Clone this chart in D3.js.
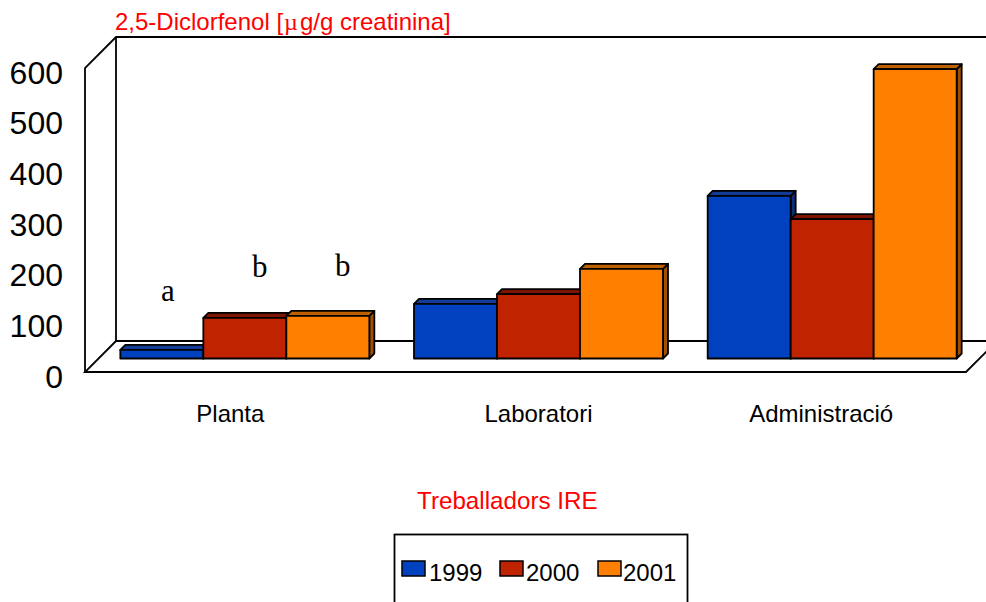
<!DOCTYPE html>
<html>
<head>
<meta charset="utf-8">
<script src="https://cdn.jsdelivr.net/npm/d3@7"></script>
<style>
    html, body { margin: 0; padding: 0; background: #fff; overflow: hidden; }
    text { font-family: "Liberation Sans", Arial, sans-serif; }
</style>
</head>
<body>
<script>
// Data
const categories = ['Planta', 'Laboratori', 'Administració'];
const years = ['1999', '2000', '2001'];
const values1999 = [17, 108, 321];
const values2000 = [80, 127, 275];
const values2001 = [84, 177, 571];
const yTicks = [0, 100, 200, 300, 400, 500, 600];
const marks = ['a', 'b', 'b'];

// Visual configs
const width = 986, height = 602,
    floorLeft = 85, floorRight = 966, floorBottom = 372, wallTop = 68,
    wallDx = 31, wallDy = 31,
    barShiftX = 13, barShiftY = 13.5, barDepth = 5,
    colors = ['#0041bf', '#bf2300', '#ff8000'],
    topColors = ['#123c96', '#7c1400', '#bf6000'],
    sideColors = ['#0c2f7a', '#5c1000', '#a05000'],
    labelShift = [-14.5, 0, -11],
    markShift = [6, 15, 15],
    markY = [301, 277, 276];

const series = [values1999, values2000, values2001];

const svg = d3.select('body').append('svg')
    .attr('width', width).attr('height', height);

const xGroup = d3.scaleBand().domain(categories).range([floorLeft, floorRight]).paddingInner(0),
    xBar = d3.scaleBand().domain(years).range([0, 249]),
    y = d3.scaleLinear().domain([0, 600]).range([floorBottom, wallTop]);

const groupLeft = c => xGroup(c) + xGroup.bandwidth() / 2 + barShiftX - xBar.range()[1] / 2;

// Back wall and floor frame
const frame = svg.append('g').attr('fill', 'none').attr('stroke', '#000').attr('stroke-width', 1.8);
frame.append('path').attr('d',
    `M${floorLeft},${floorBottom}V${wallTop}L${floorLeft + wallDx},${wallTop - wallDy}H${width}`);
frame.append('path').attr('d',
    `M${floorLeft + wallDx},${wallTop - wallDy}V${floorBottom - wallDy}H${width}`);
frame.append('path').attr('d',
    `M${floorLeft + wallDx},${floorBottom - wallDy}L${floorLeft},${floorBottom}H${floorRight}L${floorRight + wallDx},${floorBottom - wallDy}`);

// Bars
const barGroups = svg.append('g').selectAll('g')
    .data(categories)
    .join('g')
    .attr('transform', c => `translate(${groupLeft(c)},${floorBottom - barShiftY})`);

barGroups.each(function(c, ci) {
    const g = d3.select(this);
    years.forEach((yr, si) => {
        const h = y(0) - y(series[si][ci]),
            x0 = xBar(yr),
            w = xBar.bandwidth(),
            bar = g.append('g').attr('stroke', '#000').attr('stroke-width', 1.8).attr('stroke-linejoin', 'round');
        bar.append('path').attr('fill', sideColors[si])
            .attr('d', `M${x0 + w},${-h}l${barDepth},${-barDepth}V${-barDepth}L${x0 + w},0Z`);
        bar.append('path').attr('fill', topColors[si])
            .attr('d', `M${x0},${-h}l${barDepth},${-barDepth}h${w}l${-barDepth},${barDepth}Z`);
        bar.append('rect').attr('fill', colors[si])
            .attr('x', x0).attr('y', -h).attr('width', w).attr('height', h);
    });
});

// Value axis
const yAxis = d3.axisLeft(y).tickValues(yTicks).tickSize(0).tickPadding(0).tickFormat(d3.format('d'));
svg.append('g')
    .attr('transform', 'translate(63,5)')
    .call(yAxis)
    .call(g => g.select('.domain').remove())
    .selectAll('text')
    .attr('font-size', 32)
    .attr('font-family', '"Liberation Sans", Arial, sans-serif')
    .attr('fill', '#000');

// Category labels
svg.append('g').selectAll('text')
    .data(categories)
    .join('text')
    .attr('x', (c, i) => groupLeft(c) + xBar.range()[1] / 2 + labelShift[i])
    .attr('y', 422)
    .attr('text-anchor', 'middle')
    .attr('font-size', 24)
    .text(c => c);

// Significance letters over the Planta bars
svg.append('g').selectAll('text')
    .data(marks)
    .join('text')
    .attr('x', (m, i) => groupLeft(categories[0]) + xBar(years[i]) + xBar.bandwidth() / 2 + markShift[i])
    .attr('y', (m, i) => markY[i])
    .attr('text-anchor', 'middle')
    .style('font-family', '"Liberation Serif", "Times New Roman", serif')
    .attr('font-size', 31)
    .text(m => m);

// Titles
const title = svg.append('text')
    .attr('x', 115).attr('y', 30)
    .attr('fill', '#ff0000')
    .attr('font-size', 24);
title.append('tspan').text('2,5-Diclorfenol [');
title.append('tspan').attr('dx', 1).style('font-family', '"Liberation Serif", serif').text('µ');
title.append('tspan').attr('dx', 2).text('g/g creatinina]');

svg.append('text')
    .attr('x', 417).attr('y', 509)
    .attr('fill', '#ff0000')
    .attr('font-size', 24.2)
    .text('Treballadors IRE');

// Legend, cut by the bottom of the page
const legend = svg.append('g');
legend.append('rect')
    .attr('x', 394.5).attr('y', 534.5).attr('width', 293).attr('height', 90)
    .attr('fill', 'none').attr('stroke', '#000').attr('stroke-width', 1.8);

const legendX = d3.scalePoint().domain(years).range([402, 598]);
const items = legend.selectAll('g')
    .data(years)
    .join('g')
    .attr('transform', d => `translate(${legendX(d)},561)`);
items.append('rect')
    .attr('width', 23).attr('height', 15)
    .attr('fill', (d, i) => colors[i])
    .attr('stroke', '#000').attr('stroke-width', 1.5);
items.append('text')
    .attr('x', (d, i) => 27 - i)
    .attr('y', 20)
    .attr('font-size', 24)
    .text(d => d);
</script>
</body>
</html>
